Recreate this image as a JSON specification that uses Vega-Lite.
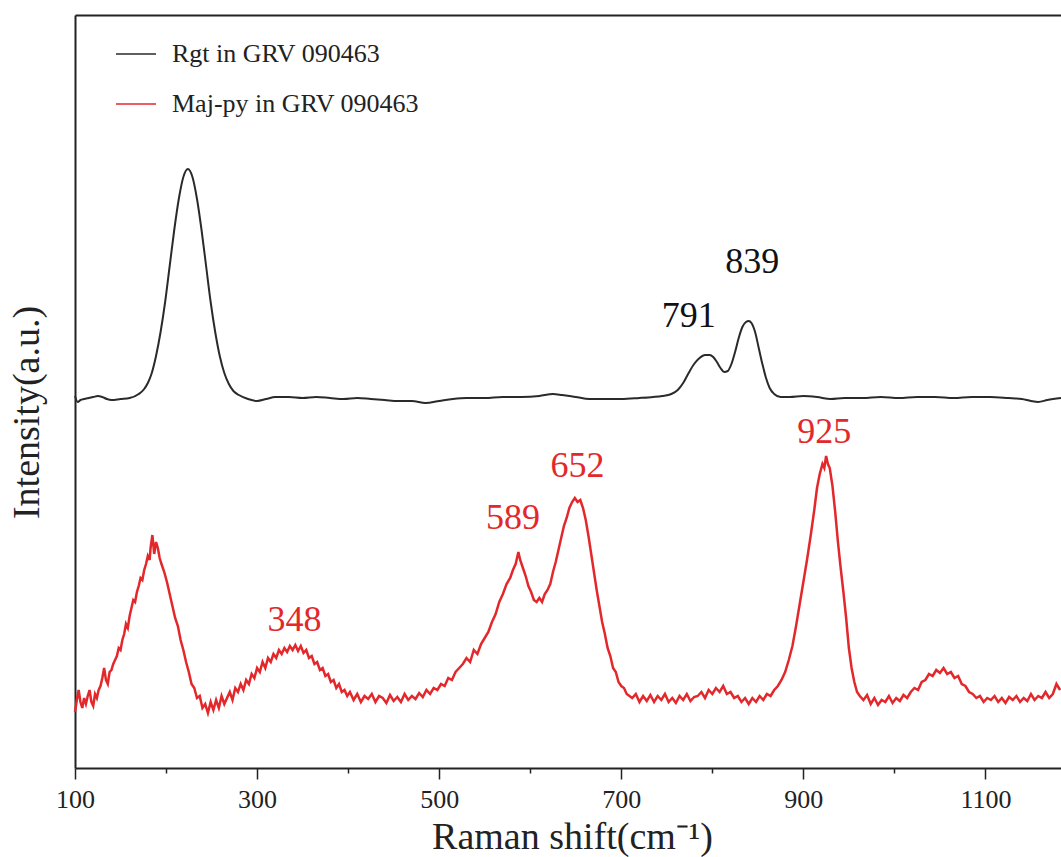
{
  "$schema": "https://vega.github.io/schema/vega-lite/v6.json",
  "width": 986,
  "height": 753,
  "autosize": {"type": "none"},
  "padding": {"left": 75, "top": 15, "right": 0, "bottom": 89},
  "background": "white",
  "config": {
    "view": {"stroke": null},
    "font": "Liberation Serif",
    "axis": {"grid": false, "labelFont": "Liberation Serif", "titleFont": "Liberation Serif", "titleFontWeight": "normal", "labelColor": "#222222", "titleColor": "#222222", "domainColor": "#222222", "domainWidth": 2}
  },
  "datasets": {
    "rgt": [
      {"shift":100,"intensity":372},{"shift":103,"intensity":366},{"shift":106,"intensity":368},{"shift":110,"intensity":369},{"shift":115,"intensity":370},{"shift":120,"intensity":371},{"shift":125,"intensity":372},{"shift":130,"intensity":371},{"shift":135,"intensity":369},{"shift":140,"intensity":368},{"shift":150,"intensity":369},{"shift":160,"intensity":370},{"shift":170,"intensity":374},{"shift":176,"intensity":379},{"shift":180,"intensity":385},{"shift":184,"intensity":394},{"shift":189,"intensity":412},{"shift":194,"intensity":436},{"shift":199,"intensity":466},{"shift":204,"intensity":502},{"shift":209,"intensity":538},{"shift":214,"intensity":569},{"shift":219,"intensity":591},{"shift":224,"intensity":599},{"shift":229,"intensity":591},{"shift":234,"intensity":569},{"shift":239,"intensity":538},{"shift":244,"intensity":502},{"shift":249,"intensity":466},{"shift":254,"intensity":436},{"shift":259,"intensity":412},{"shift":264,"intensity":395},{"shift":269,"intensity":384},{"shift":274,"intensity":377},{"shift":280,"intensity":373},{"shift":290,"intensity":369},{"shift":300,"intensity":367},{"shift":310,"intensity":369},{"shift":320,"intensity":371},{"shift":335,"intensity":371},{"shift":350,"intensity":370},{"shift":365,"intensity":371},{"shift":380,"intensity":370},{"shift":395,"intensity":369},{"shift":410,"intensity":370},{"shift":425,"intensity":369},{"shift":440,"intensity":368},{"shift":455,"intensity":367},{"shift":470,"intensity":367},{"shift":485,"intensity":365},{"shift":500,"intensity":367},{"shift":515,"intensity":369},{"shift":530,"intensity":370},{"shift":550,"intensity":370},{"shift":570,"intensity":371},{"shift":590,"intensity":371},{"shift":610,"intensity":372},{"shift":625,"intensity":374},{"shift":635,"intensity":373},{"shift":650,"intensity":371},{"shift":665,"intensity":369},{"shift":680,"intensity":369},{"shift":700,"intensity":369},{"shift":720,"intensity":370},{"shift":735,"intensity":371},{"shift":745,"intensity":372},{"shift":755,"intensity":374},{"shift":762,"intensity":378},{"shift":768,"intensity":385},{"shift":774,"intensity":395},{"shift":780,"intensity":404},{"shift":786,"intensity":410},{"shift":792,"intensity":413},{"shift":797,"intensity":413},{"shift":801,"intensity":411},{"shift":805,"intensity":406},{"shift":809,"intensity":400},{"shift":813,"intensity":396},{"shift":817,"intensity":397},{"shift":821,"intensity":404},{"shift":825,"intensity":416},{"shift":829,"intensity":430},{"shift":833,"intensity":441},{"shift":837,"intensity":446},{"shift":840,"intensity":447},{"shift":843,"intensity":445},{"shift":847,"intensity":436},{"shift":851,"intensity":420},{"shift":855,"intensity":404},{"shift":859,"intensity":390},{"shift":863,"intensity":380},{"shift":868,"intensity":374},{"shift":875,"intensity":371},{"shift":885,"intensity":371},{"shift":900,"intensity":372},{"shift":915,"intensity":371},{"shift":930,"intensity":369},{"shift":945,"intensity":370},{"shift":965,"intensity":370},{"shift":985,"intensity":371},{"shift":1005,"intensity":370},{"shift":1025,"intensity":371},{"shift":1045,"intensity":371},{"shift":1065,"intensity":370},{"shift":1085,"intensity":371},{"shift":1105,"intensity":371},{"shift":1125,"intensity":370},{"shift":1140,"intensity":369},{"shift":1150,"intensity":367},{"shift":1158,"intensity":366},{"shift":1168,"intensity":368},{"shift":1183,"intensity":370}
    ],
    "majpy": [
      {"shift":100,"intensity":56},{"shift":102,"intensity":68},{"shift":104,"intensity":78},{"shift":106,"intensity":66},{"shift":108,"intensity":60},{"shift":110,"intensity":70},{"shift":112,"intensity":64},{"shift":114,"intensity":72},{"shift":116,"intensity":78},{"shift":118,"intensity":66},{"shift":120,"intensity":62},{"shift":122,"intensity":74},{"shift":124,"intensity":70},{"shift":126,"intensity":78},{"shift":128,"intensity":82},{"shift":130,"intensity":90},{"shift":132,"intensity":100},{"shift":134,"intensity":88},{"shift":136,"intensity":84},{"shift":138,"intensity":96},{"shift":140,"intensity":98},{"shift":142,"intensity":104},{"shift":144,"intensity":108},{"shift":146,"intensity":112},{"shift":148,"intensity":120},{"shift":150,"intensity":118},{"shift":152,"intensity":128},{"shift":154,"intensity":134},{"shift":156,"intensity":144},{"shift":158,"intensity":140},{"shift":160,"intensity":152},{"shift":162,"intensity":160},{"shift":164,"intensity":168},{"shift":166,"intensity":166},{"shift":168,"intensity":176},{"shift":170,"intensity":182},{"shift":172,"intensity":190},{"shift":174,"intensity":188},{"shift":176,"intensity":198},{"shift":178,"intensity":204},{"shift":180,"intensity":212},{"shift":182,"intensity":208},{"shift":183,"intensity":220},{"shift":185,"intensity":233},{"shift":187,"intensity":214},{"shift":189,"intensity":226},{"shift":191,"intensity":220},{"shift":193,"intensity":210},{"shift":195,"intensity":204},{"shift":198,"intensity":196},{"shift":201,"intensity":186},{"shift":204,"intensity":174},{"shift":207,"intensity":162},{"shift":210,"intensity":150},{"shift":213,"intensity":142},{"shift":216,"intensity":128},{"shift":219,"intensity":118},{"shift":222,"intensity":106},{"shift":225,"intensity":96},{"shift":228,"intensity":84},{"shift":231,"intensity":80},{"shift":234,"intensity":70},{"shift":237,"intensity":72},{"shift":240,"intensity":60},{"shift":243,"intensity":64},{"shift":246,"intensity":55},{"shift":249,"intensity":66},{"shift":252,"intensity":58},{"shift":255,"intensity":68},{"shift":258,"intensity":60},{"shift":261,"intensity":72},{"shift":264,"intensity":64},{"shift":267,"intensity":70},{"shift":270,"intensity":76},{"shift":273,"intensity":68},{"shift":276,"intensity":80},{"shift":279,"intensity":76},{"shift":282,"intensity":84},{"shift":285,"intensity":78},{"shift":288,"intensity":88},{"shift":291,"intensity":84},{"shift":294,"intensity":94},{"shift":297,"intensity":90},{"shift":300,"intensity":100},{"shift":303,"intensity":96},{"shift":306,"intensity":106},{"shift":309,"intensity":100},{"shift":312,"intensity":110},{"shift":315,"intensity":106},{"shift":318,"intensity":114},{"shift":321,"intensity":110},{"shift":324,"intensity":118},{"shift":327,"intensity":114},{"shift":330,"intensity":120},{"shift":333,"intensity":116},{"shift":336,"intensity":122},{"shift":339,"intensity":118},{"shift":342,"intensity":123},{"shift":345,"intensity":117},{"shift":348,"intensity":122},{"shift":351,"intensity":115},{"shift":354,"intensity":118},{"shift":357,"intensity":110},{"shift":360,"intensity":112},{"shift":363,"intensity":104},{"shift":366,"intensity":106},{"shift":369,"intensity":98},{"shift":372,"intensity":100},{"shift":375,"intensity":92},{"shift":378,"intensity":94},{"shift":381,"intensity":86},{"shift":384,"intensity":88},{"shift":387,"intensity":80},{"shift":390,"intensity":84},{"shift":393,"intensity":76},{"shift":396,"intensity":78},{"shift":399,"intensity":72},{"shift":402,"intensity":76},{"shift":406,"intensity":68},{"shift":410,"intensity":74},{"shift":414,"intensity":66},{"shift":418,"intensity":72},{"shift":422,"intensity":69},{"shift":426,"intensity":74},{"shift":430,"intensity":66},{"shift":434,"intensity":72},{"shift":438,"intensity":70},{"shift":442,"intensity":65},{"shift":446,"intensity":73},{"shift":450,"intensity":67},{"shift":454,"intensity":71},{"shift":458,"intensity":66},{"shift":462,"intensity":74},{"shift":466,"intensity":68},{"shift":470,"intensity":72},{"shift":474,"intensity":69},{"shift":478,"intensity":75},{"shift":482,"intensity":71},{"shift":486,"intensity":78},{"shift":490,"intensity":74},{"shift":494,"intensity":80},{"shift":498,"intensity":78},{"shift":502,"intensity":84},{"shift":506,"intensity":82},{"shift":510,"intensity":90},{"shift":514,"intensity":88},{"shift":518,"intensity":96},{"shift":522,"intensity":100},{"shift":526,"intensity":104},{"shift":530,"intensity":110},{"shift":534,"intensity":106},{"shift":538,"intensity":118},{"shift":542,"intensity":114},{"shift":546,"intensity":124},{"shift":550,"intensity":130},{"shift":554,"intensity":136},{"shift":558,"intensity":146},{"shift":562,"intensity":154},{"shift":566,"intensity":166},{"shift":570,"intensity":174},{"shift":574,"intensity":184},{"shift":578,"intensity":190},{"shift":581,"intensity":198},{"shift":584,"intensity":204},{"shift":587,"intensity":216},{"shift":589,"intensity":208},{"shift":592,"intensity":200},{"shift":595,"intensity":192},{"shift":598,"intensity":182},{"shift":601,"intensity":176},{"shift":604,"intensity":168},{"shift":607,"intensity":166},{"shift":610,"intensity":170},{"shift":613,"intensity":166},{"shift":616,"intensity":174},{"shift":619,"intensity":178},{"shift":622,"intensity":184},{"shift":625,"intensity":196},{"shift":628,"intensity":206},{"shift":631,"intensity":218},{"shift":634,"intensity":230},{"shift":637,"intensity":242},{"shift":640,"intensity":250},{"shift":643,"intensity":260},{"shift":646,"intensity":266},{"shift":649,"intensity":270},{"shift":652,"intensity":266},{"shift":655,"intensity":268},{"shift":658,"intensity":260},{"shift":661,"intensity":248},{"shift":664,"intensity":232},{"shift":667,"intensity":214},{"shift":670,"intensity":196},{"shift":673,"intensity":178},{"shift":676,"intensity":162},{"shift":679,"intensity":146},{"shift":682,"intensity":134},{"shift":685,"intensity":120},{"shift":688,"intensity":112},{"shift":691,"intensity":100},{"shift":694,"intensity":96},{"shift":697,"intensity":86},{"shift":700,"intensity":82},{"shift":703,"intensity":80},{"shift":706,"intensity":74},{"shift":709,"intensity":72},{"shift":712,"intensity":70},{"shift":716,"intensity":74},{"shift":720,"intensity":66},{"shift":724,"intensity":72},{"shift":728,"intensity":67},{"shift":732,"intensity":73},{"shift":736,"intensity":66},{"shift":740,"intensity":72},{"shift":744,"intensity":68},{"shift":748,"intensity":74},{"shift":752,"intensity":66},{"shift":756,"intensity":70},{"shift":760,"intensity":65},{"shift":764,"intensity":72},{"shift":768,"intensity":68},{"shift":772,"intensity":74},{"shift":776,"intensity":67},{"shift":780,"intensity":71},{"shift":784,"intensity":72},{"shift":788,"intensity":76},{"shift":792,"intensity":70},{"shift":796,"intensity":78},{"shift":800,"intensity":74},{"shift":804,"intensity":80},{"shift":808,"intensity":76},{"shift":812,"intensity":82},{"shift":816,"intensity":74},{"shift":820,"intensity":76},{"shift":824,"intensity":70},{"shift":828,"intensity":72},{"shift":832,"intensity":66},{"shift":836,"intensity":70},{"shift":840,"intensity":64},{"shift":844,"intensity":70},{"shift":848,"intensity":66},{"shift":852,"intensity":72},{"shift":856,"intensity":68},{"shift":860,"intensity":74},{"shift":864,"intensity":72},{"shift":868,"intensity":78},{"shift":872,"intensity":82},{"shift":876,"intensity":88},{"shift":880,"intensity":96},{"shift":884,"intensity":108},{"shift":888,"intensity":122},{"shift":892,"intensity":142},{"shift":896,"intensity":164},{"shift":900,"intensity":186},{"shift":904,"intensity":208},{"shift":908,"intensity":232},{"shift":912,"intensity":258},{"shift":915,"intensity":280},{"shift":918,"intensity":294},{"shift":921,"intensity":304},{"shift":923,"intensity":300},{"shift":925,"intensity":312},{"shift":927,"intensity":304},{"shift":929,"intensity":300},{"shift":932,"intensity":282},{"shift":935,"intensity":256},{"shift":938,"intensity":226},{"shift":941,"intensity":200},{"shift":944,"intensity":176},{"shift":947,"intensity":150},{"shift":950,"intensity":120},{"shift":953,"intensity":100},{"shift":956,"intensity":86},{"shift":959,"intensity":76},{"shift":962,"intensity":72},{"shift":966,"intensity":68},{"shift":970,"intensity":73},{"shift":974,"intensity":64},{"shift":978,"intensity":70},{"shift":982,"intensity":63},{"shift":986,"intensity":68},{"shift":990,"intensity":66},{"shift":994,"intensity":72},{"shift":998,"intensity":65},{"shift":1002,"intensity":70},{"shift":1006,"intensity":67},{"shift":1010,"intensity":73},{"shift":1014,"intensity":70},{"shift":1018,"intensity":76},{"shift":1022,"intensity":80},{"shift":1026,"intensity":78},{"shift":1030,"intensity":86},{"shift":1034,"intensity":88},{"shift":1038,"intensity":94},{"shift":1042,"intensity":92},{"shift":1046,"intensity":98},{"shift":1050,"intensity":95},{"shift":1054,"intensity":100},{"shift":1058,"intensity":94},{"shift":1062,"intensity":96},{"shift":1066,"intensity":90},{"shift":1070,"intensity":92},{"shift":1074,"intensity":84},{"shift":1078,"intensity":82},{"shift":1082,"intensity":76},{"shift":1086,"intensity":74},{"shift":1090,"intensity":70},{"shift":1094,"intensity":72},{"shift":1098,"intensity":66},{"shift":1102,"intensity":70},{"shift":1106,"intensity":68},{"shift":1110,"intensity":72},{"shift":1114,"intensity":66},{"shift":1118,"intensity":70},{"shift":1122,"intensity":65},{"shift":1126,"intensity":71},{"shift":1130,"intensity":68},{"shift":1134,"intensity":72},{"shift":1138,"intensity":66},{"shift":1142,"intensity":70},{"shift":1146,"intensity":67},{"shift":1150,"intensity":74},{"shift":1154,"intensity":68},{"shift":1158,"intensity":72},{"shift":1162,"intensity":70},{"shift":1166,"intensity":76},{"shift":1170,"intensity":70},{"shift":1174,"intensity":74},{"shift":1178,"intensity":84},{"shift":1182,"intensity":78}
    ],
    "peaks": [
      {"series":"Rgt","shift":844,"intensity":506,"label":"839"},
      {"series":"Rgt","shift":774,"intensity":452,"label":"791"},
      {"series":"Maj-py","shift":923,"intensity":336,"label":"925"},
      {"series":"Maj-py","shift":652,"intensity":302,"label":"652"},
      {"series":"Maj-py","shift":581,"intensity":250,"label":"589"},
      {"series":"Maj-py","shift":341,"intensity":148,"label":"348"}
    ]
  },
  "layer": [
    {
      "data": {"name": "majpy"},
      "mark": {"type": "line", "strokeWidth": 2.5},
      "encoding": {
        "x": {"field": "shift", "type": "quantitative", "scale": {"domain": [100, 1183], "nice": false, "zero": false},
          "axis": {"orient": "bottom", "values": [100,200,300,400,500,600,700,800,900,1000,1100], "format": "d",
            "labelExpr": "datum.value % 200 == 100 ? datum.label : ''",
            "tickSize": {"condition": {"test": "datum.value % 200 == 100", "value": 11}, "value": 5},
            "tickWidth": 1.5, "tickColor": "#222222", "labelFontSize": 26, "labelPadding": 7, "labelFlush": false,
            "title": "Raman shift(cm⁻¹)", "titleFontSize": 38, "titleX": 497, "titleY": 80, "titleBaseline": "alphabetic", "titleAnchor": null, "titleAlign": "center"}},
        "y": {"field": "intensity", "type": "quantitative", "scale": {"domain": [0, 753], "nice": false, "zero": false},
          "axis": {"title": "Intensity(a.u.)", "ticks": false, "labels": false, "domain": true, "titleFontSize": 38, "titleX": -37, "titleY": 397, "titleBaseline": "alphabetic", "titleAlign": "center", "titleAngle": 270}},
        "color": {"datum": "Maj-py in GRV 090463", "type": "nominal",
          "scale": {"domain": ["Rgt in GRV 090463", "Maj-py in GRV 090463"], "range": ["#2a2a2a", "#e3282c"]},
          "legend": {"title": null, "orient": "none", "legendX": 40, "legendY": 18, "symbolType": "stroke", "symbolSize": 1600, "symbolStrokeWidth": 1.5, "labelFontSize": 26, "labelFont": "Liberation Serif", "labelColor": "#222222", "labelLimit": 0, "rowPadding": 16, "labelOffset": 15, "padding": 0}}
      }
    },
    {
      "data": {"name": "rgt"},
      "mark": {"type": "line", "strokeWidth": 2, "interpolate": "monotone"},
      "encoding": {
        "x": {"field": "shift", "type": "quantitative", "axis": {"orient": "top", "ticks": false, "labels": false, "title": null, "domain": true}},
        "y": {"field": "intensity", "type": "quantitative"},
        "color": {"datum": "Rgt in GRV 090463", "type": "nominal"}
      }
    },
    {
      "data": {"name": "peaks"},
      "transform": [{"filter": "datum.series == 'Rgt'"}],
      "mark": {"type": "text", "fontSize": 36, "font": "Liberation Serif", "color": "#111111", "baseline": "middle", "align": "center"},
      "encoding": {
        "x": {"field": "shift", "type": "quantitative", "axis": null},
        "y": {"field": "intensity", "type": "quantitative"},
        "text": {"field": "label"}
      }
    },
    {
      "data": {"name": "peaks"},
      "transform": [{"filter": "datum.series == 'Maj-py'"}],
      "mark": {"type": "text", "fontSize": 36, "font": "Liberation Serif", "color": "#e3282c", "baseline": "middle", "align": "center"},
      "encoding": {
        "x": {"field": "shift", "type": "quantitative", "axis": null},
        "y": {"field": "intensity", "type": "quantitative"},
        "text": {"field": "label"}
      }
    }
  ],
  "resolve": {"axis": {"x": "independent"}}
}
